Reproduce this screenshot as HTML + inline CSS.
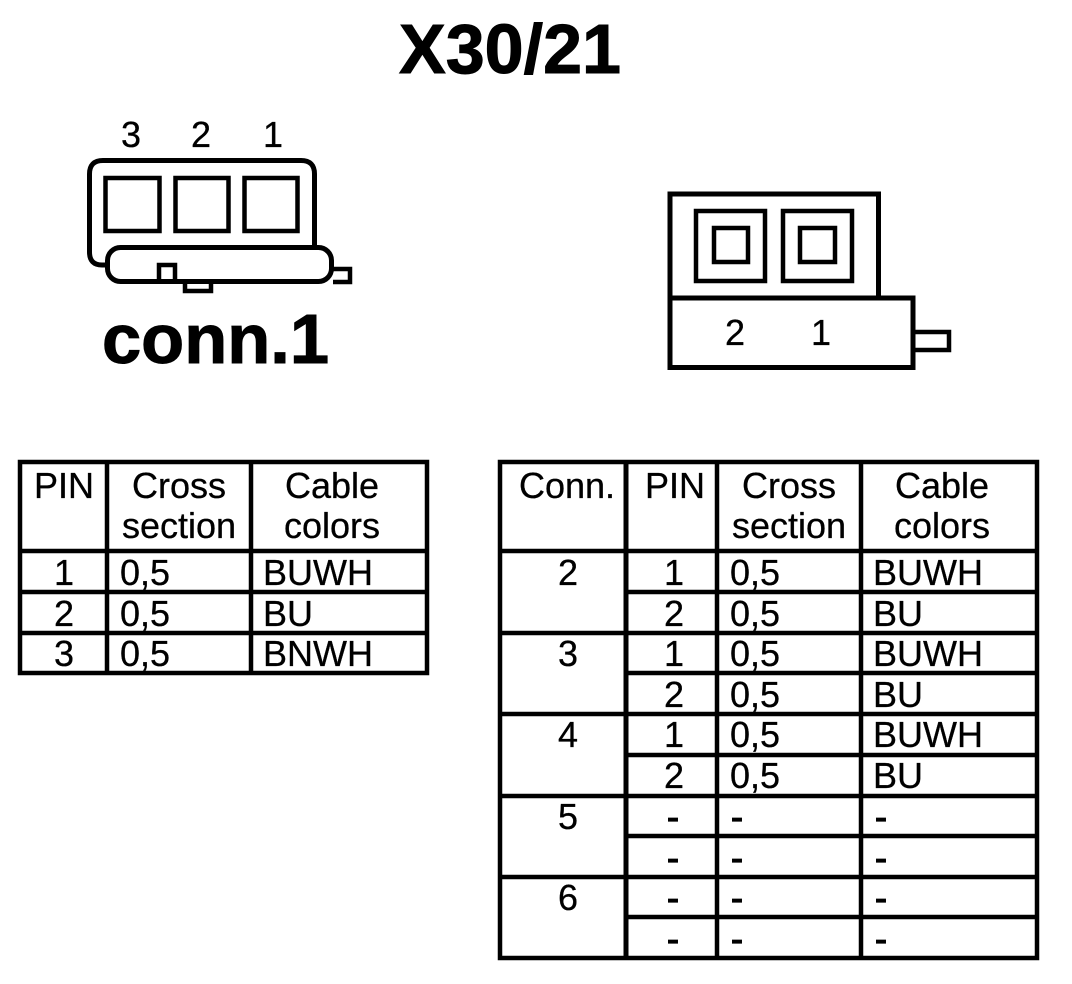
<!DOCTYPE html>
<html><head><meta charset="utf-8"><style>
html,body{margin:0;padding:0;background:#fff;width:1072px;height:984px;overflow:hidden}
svg{display:block}
text{font-family:"Liberation Sans",sans-serif;font-size:36px;fill:#000;stroke:#000;stroke-width:.3px}
.b{font-weight:bold;font-size:70px;stroke-width:1px}
.m{text-anchor:middle}
.d{stroke-width:1.2px}
.l path,.l rect{fill:none;stroke:#000}
</style></head><body>
<svg width="1072" height="984" viewBox="0 0 1072 984" xmlns="http://www.w3.org/2000/svg">
<text class="b" x="399" y="73" textLength="222" lengthAdjust="spacingAndGlyphs">X30/21</text>
<text class="b" x="102" y="363" textLength="227" lengthAdjust="spacingAndGlyphs">conn.1</text>

<g class="l" stroke-width="5">
<path d="M105 265H102Q89.500 265 89.500 252V174Q89.500 160.500 103 160.500H301Q314.500 160.500 314.500 174V247"/>
<rect x="105.500" y="178" width="54" height="53" stroke-width="4.500"/>
<rect x="175.500" y="178" width="53" height="53" stroke-width="4.500"/>
<rect x="244.500" y="178" width="53" height="53" stroke-width="4.500"/>
<rect x="107.500" y="247.500" width="224" height="34" rx="13"/>
<path d="M159 281V265H175V281" stroke-width="4.500"/>
<path d="M185 283V291H211V283" stroke-width="4.500"/>
<path d="M333 269H350V282H333" stroke-width="4.500"/>
<path d="M670 298V194H878.500V298"/>
<path d="M670 298H913V367.500H670Z"/>
<path d="M915 332H949V350H915" stroke-width="4.500"/>
<rect x="696" y="211" width="69" height="70" stroke-width="4.500"/>
<rect x="783" y="211" width="69" height="70" stroke-width="4.500"/>
<rect x="714" y="228" width="34" height="34" stroke-width="4.500"/>
<rect x="800" y="228" width="35" height="34" stroke-width="4.500"/>
</g>
<text class="m" x="131" y="147">3</text>
<text class="m" x="201" y="147">2</text>
<text class="m" x="273" y="147">1</text>
<text class="m" x="735" y="345">2</text>
<text class="m" x="821" y="345">1</text>

<g class="l" stroke-width="4.500">
<rect x="20" y="462" width="407" height="211"/>
<path d="M107 462V673M251 462V673M20 551H427M20 592H427M20 633H427"/>
</g>
<text class="m" x="64" y="498">PIN</text>
<text class="m" x="179" y="498">Cross</text>
<text class="m" x="179" y="538">section</text>
<text class="m" x="332" y="498">Cable</text>
<text class="m" x="332" y="538">colors</text>
<text class="m" x="64" y="585">1</text><text x="120" y="585">0,5</text><text x="263" y="585" textLength="110" lengthAdjust="spacingAndGlyphs">BUWH</text>
<text class="m" x="64" y="626">2</text><text x="120" y="626">0,5</text><text x="263" y="626">BU</text>
<text class="m" x="64" y="666">3</text><text x="120" y="666">0,5</text><text x="263" y="666" textLength="110" lengthAdjust="spacingAndGlyphs">BNWH</text>

<g class="l" stroke-width="4.500">
<rect x="500" y="462" width="537" height="496"/>
<path d="M626 462V958" stroke-width="5"/>
<path d="M717 462V958M861 462V958"/>
<path d="M500 551H1037M500 633H1037M500 714H1037M500 796H1037M500 877H1037"/>
<path d="M626 592H1037M626 673H1037M626 755H1037M626 836H1037M626 917H1037"/>
</g>
<text class="m" x="567" y="498">Conn.</text>
<text class="m" x="675" y="498">PIN</text>
<text class="m" x="789" y="498">Cross</text>
<text class="m" x="789" y="538">section</text>
<text class="m" x="942" y="498">Cable</text>
<text class="m" x="942" y="538">colors</text>

<text class="m" x="568" y="585">2</text>
<text class="m" x="568" y="666">3</text>
<text class="m" x="568" y="747">4</text>
<text class="m" x="568" y="829">5</text>
<text class="m" x="568" y="910">6</text>

<text class="m" x="674" y="585">1</text><text x="730" y="585">0,5</text><text x="873" y="585" textLength="110" lengthAdjust="spacingAndGlyphs">BUWH</text>
<text class="m" x="674" y="626">2</text><text x="730" y="626">0,5</text><text x="873" y="626">BU</text>
<text class="m" x="674" y="666">1</text><text x="730" y="666">0,5</text><text x="873" y="666" textLength="110" lengthAdjust="spacingAndGlyphs">BUWH</text>
<text class="m" x="674" y="707">2</text><text x="730" y="707">0,5</text><text x="873" y="707">BU</text>
<text class="m" x="674" y="747">1</text><text x="730" y="747">0,5</text><text x="873" y="747" textLength="110" lengthAdjust="spacingAndGlyphs">BUWH</text>
<text class="m" x="674" y="788">2</text><text x="730" y="788">0,5</text><text x="873" y="788">BU</text>

<text class="m d" x="673" y="829">-</text><text class="d" x="731" y="829">-</text><text class="d" x="875" y="829">-</text>
<text class="m d" x="673" y="870">-</text><text class="d" x="731" y="870">-</text><text class="d" x="875" y="870">-</text>
<text class="m d" x="673" y="910">-</text><text class="d" x="731" y="910">-</text><text class="d" x="875" y="910">-</text>
<text class="m d" x="673" y="951">-</text><text class="d" x="731" y="951">-</text><text class="d" x="875" y="951">-</text>
</svg>
</body></html>
